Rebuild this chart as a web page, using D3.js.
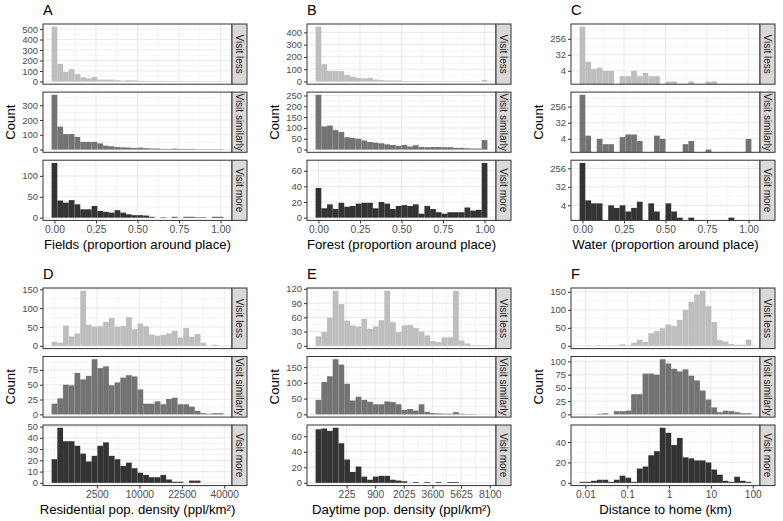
<!DOCTYPE html>
<html><head><meta charset="utf-8">
<script src="https://cdn.jsdelivr.net/npm/d3@7"></script>
<style>body{margin:0;background:#fff}svg{display:block}</style>
</head><body><svg id="c" width="783" height="521"></svg>
<script>
// ---------------- data ----------------
const groups = ["Visit less", "Visit similarly", "Visit more"];
const panelLetters = ["A", "B", "C", "D", "E", "F"];
const xTitles = ["Fields (proportion around place)", "Forest (proportion around place)",
  "Water (proportion around place)", "Residential pop. density (ppl/km²)",
  "Daytime pop. density (ppl/km²)", "Distance to home (km)"];

// 30 histogram bins per facet (counts)
const fieldsLess    = [522,168,92,118,70,40,28,42,18,18,17,12,8,12,10,6,4,4,3,5,3,2,3,2,1,2,1,1,1,1];
const fieldsSimilar = [370,155,105,105,85,52,52,52,42,26,22,17,15,13,11,13,9,7,7,4,4,6,4,4,4,2,2,2,2,2];
const fieldsMore    = [131,41,36,42,32,20,20,28,16,14,12,18,12,8,6,6,5,2,0,1,0,2,0,2,2,1,1,0,2,2];

const forestLess    = [446,141,87,87,84,52,38,30,25,30,16,11,8,8,8,4,3,3,2,2,2,1,1,2,1,1,1,1,1,13];
const forestSimilar = [253,107,111,90,81,57,54,50,42,35,32,29,24,21,17,21,14,20,12,11,12,12,11,11,8,8,6,5,5,44];
const forestMore    = [38,12,17,11,19,14,15,18,19,19,12,20,18,11,15,16,15,17,5,15,11,7,5,7,7,7,13,9,10,70];

const waterLess     = [1230,13,5,6,4,4,0,2,2,4,2,3,2,2,0,1,1,0,0,1,0,0,1,1,0,0,0,0,0,0];
const waterSimilar  = [1160,6,0,4,2,2,0,5,7,7,3,0,0,6,4,0,0,0,2,3,0,0,1,0,0,0,0,0,0,4];
const waterMore     = [470,7,5,5,0,4,3,4,2,3,6,0,5,2,0,5,2,1,0,1,0,0,0,0,0,0,1,0,0,0];

const resLess       = [11,8,54,25,33,146,56,51,52,63,74,51,53,76,44,59,52,30,27,29,33,40,22,47,24,31,8,0,3,0];
const resSimilar    = [18,27,50,49,70,59,65,93,78,81,49,54,62,66,64,42,18,18,22,17,26,28,17,17,13,6,2,1,2,2];
const resMore       = [21,49,37,37,33,26,19,24,33,36,24,21,15,18,13,9,7,5,5,7,3,1,1,0,2,2,0,0,0,0];

const dayLess       = [20,29,59,116,88,53,43,41,57,36,41,54,116,50,29,43,44,38,30,22,10,8,18,18,116,11,5,1,1,1];
const daySimilar    = [46,103,121,175,158,97,44,56,46,40,32,32,41,39,32,14,17,12,32,8,4,3,2,2,7,2,1,1,0,0];
const dayMore       = [69,70,67,71,51,30,14,21,8,4,8,9,9,4,3,2,0,1,0,1,0,1,0,1,1,0,0,0,0,0];

const distLess      = [0,1,0,1,0,1,1,4,1,9,17,11,35,41,49,59,55,72,100,122,143,153,110,66,16,12,5,3,3,17];
const distSimilar   = [0,0,0,1,2,0,6,6,7,38,38,77,77,75,104,96,86,81,85,73,64,45,28,13,4,7,6,4,2,2];
const distMore      = [1,1,2,3,3,1,3,7,5,1,14,16,27,31,54,49,37,44,25,24,22,22,20,13,8,2,1,6,2,1];

// variable ranges (min, max of raw data)
const propRange = [0, 1];
const resRange  = [0, 38260];
const dayRange  = [0.09, 7621];
const distRange = [0.0085, 79.4];

// x tick values / labels
const propTicks = [0, 0.25, 0.5, 0.75, 1];
const propLabels = ["0.00", "0.25", "0.50", "0.75", "1.00"];
const resTicks = [2500, 10000, 22500, 40000];
const resLabels = ["2500", "10000", "22500", "40000"];
const dayTicks = [225, 900, 2025, 3600, 5625, 8100];
const dayLabels = ["225", "900", "2025", "3600", "5625", "8100"];
const distTicks = [0.01, 0.1, 1, 10, 100];
const distLabels = ["0.01", "0.1", "1", "10", "100"];

// y tick values per facet
const fieldsYTicks = [[0,100,200,300,400,500],[0,100,200,300],[0,50,100]];
const forestYTicks = [[0,100,200,300,400],[0,50,100,150,200,250],[0,20,40,60]];
const waterYTicks  = [[4,32,256],[4,32,256],[4,32,256]];
const resYTicks    = [[0,50,100,150],[0,25,50,75],[0,10,20,30,40,50]];
const dayYTicks    = [[0,30,60,90,120],[0,50,100,150],[0,20,40,60]];
const distYTicks   = [[0,50,100,150],[0,25,50,75,100],[0,20,40]];

const fills = ["#BEBEBE", "#737373", "#333333"];

// ---------------- spec ----------------
const ident = v => v, sqrtT = v => Math.sqrt(v), logT = v => Math.log10(v);
const panels = [
  {series:[fieldsLess,fieldsSimilar,fieldsMore], range:propRange, tx:ident, xt:propTicks, xl:propLabels, yt:fieldsYTicks, log:false},
  {series:[forestLess,forestSimilar,forestMore], range:propRange, tx:ident, xt:propTicks, xl:propLabels, yt:forestYTicks, log:false},
  {series:[waterLess,waterSimilar,waterMore], range:propRange, tx:ident, xt:propTicks, xl:propLabels, yt:waterYTicks, log:true},
  {series:[resLess,resSimilar,resMore], range:resRange, tx:sqrtT, xt:resTicks, xl:resLabels, yt:resYTicks, log:false},
  {series:[dayLess,daySimilar,dayMore], range:dayRange, tx:sqrtT, xt:dayTicks, xl:dayLabels, yt:dayYTicks, log:false},
  {series:[distLess,distSimilar,distMore], range:distRange, tx:logT, xt:distTicks, xl:distLabels, yt:distYTicks, log:false}
];

// ---------------- layout ----------------
const colLeft = [43, 307, 571], plotW = 189, stripW = 15;
const rowTop = [24, 288], facetH = [60.2, 60.6], gapH = 7.9;
const FONT = "'Liberation Sans', Arial, Helvetica, sans-serif";
const TICKFS = 9.5;
const svg = d3.select("#c").style("font-family", FONT);

function minorBreaks(b, dom) {
  const d = b[1] - b[0];
  const e = b.slice();
  if (dom[0] < e[0]) e.unshift(e[0] - d);
  if (dom[1] > e[e.length - 1]) e.push(e[e.length - 1] + d);
  const out = [];
  for (let i = 0; i < e.length - 1; i++) out.push(e[i], (e[i] + e[i + 1]) / 2);
  out.push(e[e.length - 1]);
  return out.filter(v => v >= dom[0] && v <= dom[1] && !b.some(m => Math.abs(m - v) < 1e-9));
}

panels.forEach((p, i) => {
  const col = i % 3, row = Math.floor(i / 3);
  const left = colLeft[col], top0 = rowTop[row], fh = facetH[row];
  const g = svg.append("g");
  const lo = p.tx(p.range[0]), hi = p.tx(p.range[1]);
  const n = 30, w = (hi - lo) / (n - 1);
  const bs = lo - w / 2, be = hi + w / 2, pad = 0.05 * (be - bs);
  const x = d3.scaleLinear().domain([bs - pad, be + pad]).range([left, left + plotW]);
  const xMaj = p.xt.map(p.tx);
  const xMin = minorBreaks(xMaj, x.domain());

  const bottomAll = top0 + 3 * fh + 2 * gapH;

  // panel letter
  g.append("text").attr("x", left).attr("y", top0 - 9).attr("font-size", 14.5)
    .attr("fill", "#000").text(panelLetters[i]);

  p.series.forEach((counts, f) => {
    const top = top0 + f * (fh + gapH), bottom = top + fh;
    const yv = p.log ? (c => Math.log2(c)) : (c => c);
    const pos = counts.filter(c => c > 0).map(yv);
    const yLo = p.log ? d3.min(pos) : 0, yHi = d3.max(pos);
    const yr = yHi - yLo;
    const y = d3.scaleLinear().domain([yLo - 0.05 * yr, yHi + 0.05 * yr]).range([bottom, top]);
    const yMaj = p.yt[f].map(yv);
    const yMinr = minorBreaks(yMaj, y.domain());
    const fg = g.append("g");
    fg.append("rect").attr("x", left).attr("y", top).attr("width", plotW).attr("height", fh).attr("fill", "#fff");
    // grid
    const grid = fg.append("g");
    xMin.forEach(v => grid.append("line").attr("x1", x(v)).attr("x2", x(v)).attr("y1", top).attr("y2", bottom)
      .attr("stroke", "#EBEBEB").attr("stroke-width", 0.55));
    yMinr.forEach(v => grid.append("line").attr("x1", left).attr("x2", left + plotW).attr("y1", y(v)).attr("y2", y(v))
      .attr("stroke", "#EBEBEB").attr("stroke-width", 0.55));
    xMaj.forEach(v => grid.append("line").attr("x1", x(v)).attr("x2", x(v)).attr("y1", top).attr("y2", bottom)
      .attr("stroke", "#EBEBEB").attr("stroke-width", 1.1));
    yMaj.forEach(v => grid.append("line").attr("x1", left).attr("x2", left + plotW).attr("y1", y(v)).attr("y2", y(v))
      .attr("stroke", "#EBEBEB").attr("stroke-width", 1.1));
    // bars
    const bins = counts.map((c, k) => ({c, c0: lo + k * w - w / 2, c1: lo + k * w + w / 2}));
    fg.append("g").selectAll("rect").data(bins.filter(d => d.c > 0)).join("rect")
      .attr("x", d => x(d.c0)).attr("width", d => x(d.c1) - x(d.c0))
      .attr("y", d => y(yv(d.c)))
      .attr("height", d => (p.log ? bottom : y(0)) - y(yv(d.c)))
      .attr("fill", fills[f]);
    // border
    fg.append("rect").attr("x", left).attr("y", top).attr("width", plotW).attr("height", fh)
      .attr("fill", "none").attr("stroke", "#333333").attr("stroke-width", 1);
    // y axis
    const ya = fg.append("g").attr("transform", `translate(${left},0)`)
      .call(d3.axisLeft(y).tickValues(yMaj).tickSize(3).tickPadding(2)
        .tickFormat((d, j) => String(p.yt[f][j])));
    ya.select(".domain").remove();
    ya.selectAll("line").attr("stroke", "#333333").attr("stroke-width", 1);
    ya.selectAll("text").attr("fill", "#4D4D4D").attr("font-size", TICKFS).attr("font-family", FONT);
    // strip
    fg.append("rect").attr("x", left + plotW).attr("y", top).attr("width", stripW).attr("height", fh)
      .attr("fill", "#D9D9D9").attr("stroke", "#333333").attr("stroke-width", 1);
    fg.append("text").attr("transform", `translate(${left + plotW + stripW / 2},${top + fh / 2}) rotate(90)`)
      .attr("text-anchor", "middle").attr("dy", "0.35em").attr("font-size", 10).attr("fill", "#1A1A1A")
      .text(groups[f]);
  });

  // x axis
  const xa = g.append("g").attr("transform", `translate(0,${bottomAll})`)
    .call(d3.axisBottom(x).tickValues(xMaj).tickSize(3).tickPadding(2)
      .tickFormat((d, j) => p.xl[j]));
  xa.select(".domain").remove();
  xa.selectAll("line").attr("stroke", "#333333").attr("stroke-width", 1);
  xa.selectAll("text").attr("fill", "#4D4D4D").attr("font-size", 10.2).attr("font-family", FONT);

  // axis titles
  g.append("text").attr("x", left + plotW / 2).attr("y", bottomAll + 28.5).attr("text-anchor", "middle")
    .attr("font-size", 13.2).attr("fill", "#000").text(xTitles[i]);
  const midY = top0 + 1.5 * fh + gapH;
  g.append("text").attr("transform", `translate(${left - 28},${midY}) rotate(-90)`)
    .attr("text-anchor", "middle").attr("font-size", 13.2).attr("fill", "#000").text("Count");
});
</script>
</body></html>
